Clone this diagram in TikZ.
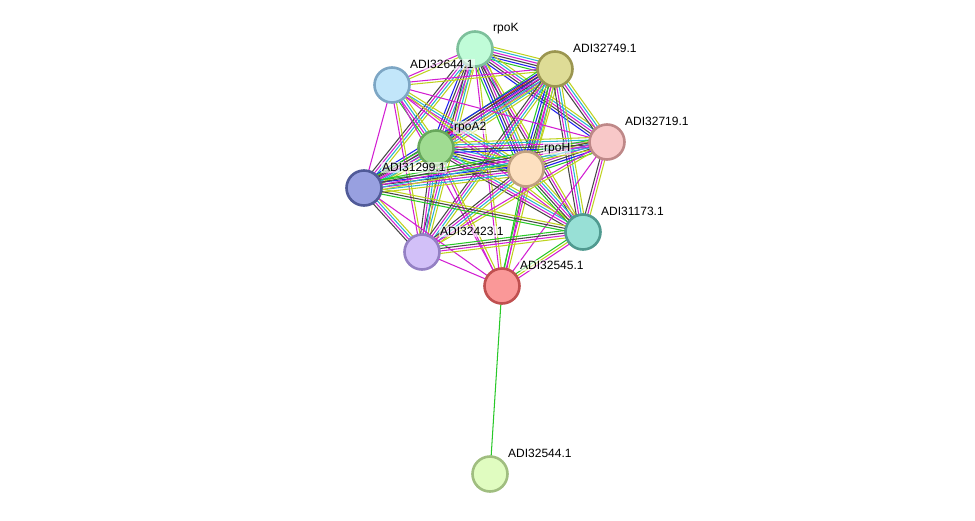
\documentclass[tikz,border=0pt]{standalone}
\usepackage{fontspec}
\setmainfont{Liberation Sans}
\usetikzlibrary{calc}
\pgfdeclarelayer{background}
\pgfsetlayers{background,main}
\definecolor{cgrn}{RGB}{40,200,40}
\definecolor{cred}{RGB}{230,30,30}
\definecolor{cblu}{RGB}{30,30,240}
\definecolor{cblk}{RGB}{70,70,70}
\definecolor{cmag}{RGB}{210,30,210}
\definecolor{ccya}{RGB}{40,180,210}
\definecolor{cyel}{RGB}{190,210,30}
\tikzset{
  prot/.style={circle, minimum size=35pt, inner sep=0pt, line width=2.6pt},
  plabel/.style={anchor=west, inner sep=1pt, fill=white, fill opacity=0.6, text opacity=1, font=\fontsize{12}{14}\selectfont},
  edgeline/.style={line width=1.05pt},
}
\newcommand\medge[4]{%
  \foreach \cc [count=\i] in {#4} {%
    \pgfmathsetmacro\off{(\i-(#3+1)/2)*2.5}%
    \draw[\cc, edgeline] ($(#1)!\off pt!90:(#2)$) -- ($(#2)!\off pt!-90:(#1)$);
  }%
}
\begin{document}
\begin{tikzpicture}[x=1pt,y=-1pt]
\useasboundingbox (0,0) rectangle (975,520);
% nodes
\node[prot, draw={rgb,255:red,125;green,192;blue,155}, fill={rgb,255:red,192;green,252;blue,216}] (K) at (475,49) {};
\node[prot, draw={rgb,255:red,155;green,150;blue,80}, fill={rgb,255:red,222;green,220;blue,150}] (E) at (555,69) {};
\node[prot, draw={rgb,255:red,125;green,166;blue,196}, fill={rgb,255:red,194;green,230;blue,250}] (F) at (392,85) {};
\node[prot, draw={rgb,255:red,190;green,136;blue,136}, fill={rgb,255:red,248;green,200;blue,200}] (J) at (607,142) {};
\node[prot, draw={rgb,255:red,104;green,168;blue,92}, fill={rgb,255:red,160;green,220;blue,146}] (A) at (436,148) {};
\node[prot, draw={rgb,255:red,192;green,160;blue,128}, fill={rgb,255:red,253;green,224;blue,192}] (H) at (526,169) {};
\node[prot, draw={rgb,255:red,80;green,90;blue,152}, fill={rgb,255:red,152;green,160;blue,224}] (P) at (364,188) {};
\node[prot, draw={rgb,255:red,80;green,154;blue,144}, fill={rgb,255:red,152;green,224;blue,214}] (C) at (583,232) {};
\node[prot, draw={rgb,255:red,148;green,128;blue,196}, fill={rgb,255:red,210;green,192;blue,248}] (L) at (422,252) {};
\node[prot, draw={rgb,255:red,192;green,80;blue,80}, fill={rgb,255:red,250;green,152;blue,152}] (R) at (502,286) {};
\node[prot, draw={rgb,255:red,160;green,190;blue,128}, fill={rgb,255:red,224;green,252;blue,192}] (S) at (490,474) {};
% edges
\begin{pgfonlayer}{background}
\medge{K}{E}{6}{cgrn,cblu,cblk,cmag,ccya,cyel}
\medge{K}{F}{2}{cmag,cyel}
\medge{K}{A}{5}{cblu,cblk,cmag,ccya,cyel}
\medge{K}{H}{6}{cgrn,cblu,cblk,cmag,ccya,cyel}
\medge{K}{P}{4}{cblk,cmag,ccya,cyel}
\medge{K}{J}{5}{cblu,cblk,cmag,ccya,cyel}
\medge{K}{L}{4}{cblk,cmag,ccya,cyel}
\medge{K}{C}{3}{cblk,cmag,cyel}
\medge{K}{R}{2}{cmag,cyel}
\medge{E}{F}{2}{cmag,cyel}
\medge{E}{A}{7}{cgrn,cred,cblu,cblk,cmag,ccya,cyel}
\medge{E}{H}{6}{cgrn,cblu,cblk,cmag,ccya,cyel}
\medge{E}{J}{4}{cblk,cmag,ccya,cyel}
\medge{E}{P}{5}{cblu,cblk,cmag,ccya,cyel}
\medge{E}{L}{4}{cblk,cmag,ccya,cyel}
\medge{E}{C}{4}{cblk,cmag,ccya,cyel}
\medge{E}{R}{3}{cgrn,cmag,cyel}
\medge{F}{A}{4}{cgrn,cmag,ccya,cyel}
\medge{F}{H}{3}{cmag,ccya,cyel}
\medge{F}{P}{1}{cmag}
\medge{F}{J}{1}{cmag}
\medge{F}{L}{2}{cmag,cyel}
\medge{F}{C}{2}{cmag,cyel}
\medge{F}{R}{1}{cmag}
\medge{A}{H}{6}{cgrn,cblu,cblk,cmag,ccya,cyel}
\medge{A}{J}{5}{cblu,cblk,cmag,ccya,cyel}
\medge{A}{P}{5}{cgrn,cblk,cmag,ccya,cyel}
\medge{A}{L}{4}{cblk,cmag,ccya,cyel}
\medge{A}{C}{4}{cblk,cmag,ccya,cyel}
\medge{A}{R}{2}{cmag,cyel}
\medge{H}{J}{6}{cgrn,cblu,cblk,cmag,ccya,cyel}
\medge{H}{P}{6}{cgrn,cblu,cblk,cmag,ccya,cyel}
\medge{H}{C}{5}{cgrn,cblk,cmag,ccya,cyel}
\medge{H}{L}{4}{cblk,cmag,ccya,cyel}
\medge{H}{R}{2}{cgrn,cmag}
\medge{J}{P}{5}{cgrn,cblk,cmag,ccya,cyel}
\medge{J}{C}{3}{cblk,cmag,cyel}
\medge{J}{L}{2}{cmag,cyel}
\medge{J}{R}{1}{cmag}
\medge{P}{L}{4}{cblk,cmag,ccya,cyel}
\medge{P}{C}{3}{cgrn,cblk,cyel}
\medge{P}{R}{1}{cmag}
\medge{C}{L}{4}{cgrn,cblk,cmag,cyel}
\medge{C}{R}{3}{cgrn,cyel,cmag}
\medge{L}{R}{1}{cmag}
\medge{R}{S}{1}{cgrn}
\end{pgfonlayer}
% labels
\node[plabel] (Klab) at ($(K)+(17,-20.5)$) {rpoK};
\node[plabel] (Elab) at ($(E)+(17,-20.5)$) {ADI32749.1};
\node[plabel] (Flab) at ($(F)+(17,-20.5)$) {ADI32644.1};
\node[plabel] (Jlab) at ($(J)+(17,-20.5)$) {ADI32719.1};
\node[plabel] (Alab) at ($(A)+(17,-20.5)$) {rpoA2};
\node[plabel] (Hlab) at ($(H)+(17,-20.5)$) {rpoH};
\node[plabel] (Plab) at ($(P)+(17,-20.5)$) {ADI31299.1};
\node[plabel] (Clab) at ($(C)+(17,-20.5)$) {ADI31173.1};
\node[plabel] (Llab) at ($(L)+(17,-20.5)$) {ADI32423.1};
\node[plabel] (Rlab) at ($(R)+(17,-20.5)$) {ADI32545.1};
\node[plabel] (Slab) at ($(S)+(17,-20.5)$) {ADI32544.1};
\end{tikzpicture}
\end{document}
